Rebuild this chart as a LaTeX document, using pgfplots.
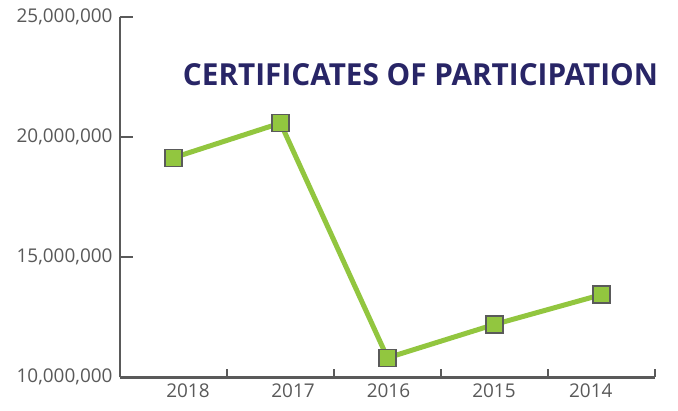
\documentclass[border=0pt]{standalone}
\usepackage{fontspec}
\setmainfont{Open Sans}
\usepackage{pgfplots}
\pgfplotsset{compat=1.18}
\definecolor{axgray}{HTML}{5A5A5A}
\definecolor{txtgray}{HTML}{595959}
\definecolor{lgreen}{HTML}{92C63F}
\definecolor{navy}{HTML}{282566}
\begin{document}
\begin{tikzpicture}
\begin{axis}[
  scale only axis,
  width=535bp, height=360.4bp,
  xmin=-0.5, xmax=4.5,
  ymin=10000000, ymax=25000000,
  scaled y ticks=false,
  axis x line*=bottom, axis y line*=left,
  axis line style={-, draw=axgray, line width=2.5bp},
  tick align=inside,
  ytick={10000000,15000000,20000000,25000000},
  yticklabels={},
  extra y ticks={10000000,15000000,20000000,25000000},
  extra y tick labels={{10,000,000},{15,000,000},{20,000,000},{25,000,000}},
  extra y tick style={major tick length=13bp},
  xtick={0.5,1.5,2.5,3.5,4.5},
  xticklabels={},
  extra x ticks={0.135,1.117,2.009,2.995,3.90},
  extra x tick labels={2018,2017,2016,2015,2014},
  extra x tick style={major tick length=0pt},
  major tick length=8.7bp,
  tick style={draw=axgray, line width=2.5bp},
  ticklabel style={font=\fontsize{19}{20}\selectfont, text=txtgray},
  yticklabel style={xshift=-4bp},
  xticklabel style={yshift=-3bp},
  clip=false,
]
\addplot[lgreen, line width=5bp, mark=square*, mark size=8.5bp,
  mark options={fill=lgreen, draw=axgray, line width=1.3bp}]
  coordinates {(0,19140000)(1,20580000)(2,10810000)(3,12200000)(4,13440000)};
\node[inner sep=0pt, text=navy] at (rel axis cs:0.5617,0.8407)
  {\resizebox{475bp}{22bp}{\bfseries CERTIFICATES OF PARTICIPATION}};
\end{axis}
\pgfresetboundingbox
\path (current axis.south west) ++(-120bp,-33.7bp) rectangle ++(678bp,411bp);
\end{tikzpicture}
\end{document}
